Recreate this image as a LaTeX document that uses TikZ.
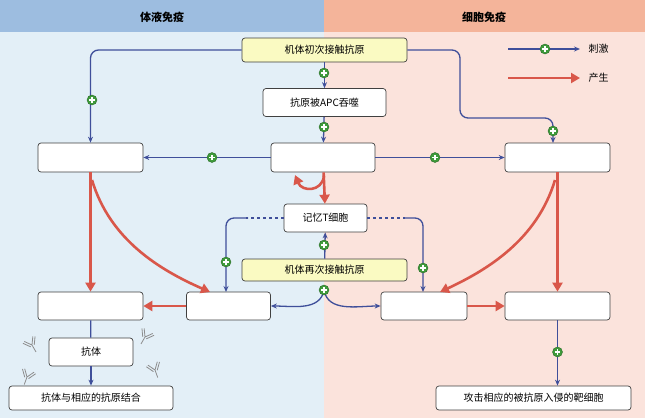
\documentclass[tikz,border=0pt]{standalone}
\usepackage{fontspec}
\setmainfont{Noto Sans CJK SC}
\usetikzlibrary{arrows.meta}
\definecolor{hdrL}{HTML}{9DBDE0}\definecolor{hdrR}{HTML}{F4B49A}
\definecolor{bgL}{HTML}{E3EFF7}\definecolor{bgR}{HTML}{FBE3DC}
\definecolor{bl}{HTML}{3F4F9A}\definecolor{rd}{HTML}{D9574A}
\definecolor{gr}{HTML}{3E9A3A}\definecolor{yl}{HTML}{FAFAC2}
\tikzset{
 box/.style={draw=black!75,fill=white,rounded corners=3pt,line width=0.7pt,font=\fontsize{10}{12}\selectfont,inner sep=0pt},
 ybox/.style={box,fill=yl},
 stim/.style={draw=bl,line width=1.3pt,-{Stealth[length=6pt,width=5pt]},rounded corners=8pt},
 stimn/.style={draw=bl,line width=1.3pt,rounded corners=8pt},
 prod/.style={draw=rd,line width=2.6pt,-{Triangle[length=9pt,width=10pt]}},
 plus/.style={circle,fill=gr,draw=gr!70!black,minimum size=10pt,inner sep=0pt,
   path picture={\draw[white,line width=1.6pt] ([xshift=-2.8pt]path picture bounding box.center)--([xshift=2.8pt]path picture bounding box.center)
   ([yshift=-2.8pt]path picture bounding box.center)--([yshift=2.8pt]path picture bounding box.center);}},
 ab/.style={draw=black!45,line width=0.8pt}
}
\begin{document}
\begin{tikzpicture}[x=1pt,y=-1pt]
\fill[bgL] (0,0) rectangle (324,418);
\fill[bgR] (324,0) rectangle (645,418);
\fill[hdrL] (0,0) rectangle (324,32);
\fill[hdrR] (324,0) rectangle (645,32);
\node[font=\bfseries\fontsize{11}{13}\selectfont] (hl) at (162,17) {体液免疫};
\node[font=\bfseries\fontsize{11}{13}\selectfont] (hr) at (484,17) {细胞免疫};
% nodes
\node[ybox,minimum width=165pt,minimum height=24pt] (n0) at (324.5,50) {机体初次接触抗原};
\node[box,minimum width=123pt,minimum height=28pt] (n1) at (324.5,102.5) {抗原被APC吞噬};
\node[box,minimum width=105pt,minimum height=29pt] (L1) at (90.5,157.5) {};
\node[box,minimum width=104pt,minimum height=29pt] (C1) at (323,157.5) {};
\node[box,minimum width=105pt,minimum height=29pt] (R1) at (557.5,157.5) {};
\node[box,minimum width=83pt,minimum height=28pt] (M) at (325.5,218) {记忆T细胞};
\node[ybox,minimum width=165pt,minimum height=22pt] (n2) at (324.5,270) {机体再次接触抗原};
\node[box,minimum width=105pt,minimum height=28pt] (L2) at (90.5,306) {};
\node[box,minimum width=84pt,minimum height=28pt] (L2b) at (228.5,306) {};
\node[box,minimum width=86pt,minimum height=28pt] (R2b) at (424,306) {};
\node[box,minimum width=105pt,minimum height=28pt] (R2) at (557.5,306) {};
\node[box,minimum width=84pt,minimum height=28pt] (AB) at (91,352) {抗体};
\node[box,minimum width=164pt,minimum height=24pt] (BL) at (91,398) {抗体与相应的抗原结合};
\node[box,minimum width=195pt,minimum height=24pt] (BR) at (533.5,398) {攻击相应的被抗原入侵的靶细胞};
% legend
\coordinate (lg1) at (508,49); \coordinate (lg2) at (580,49);
\draw[stim] (lg1) -- (lg2);
\node[plus] (lp) at (545,49) {};
\node[anchor=west,font=\fontsize{10}{12}\selectfont] (lt1) at (585,49) {刺激};
\coordinate (lg3) at (508,78); \coordinate (lg4) at (580,78);
\draw[prod] (lg3) -- (lg4);
\node[anchor=west,font=\fontsize{10}{12}\selectfont] (lt2) at (585,78) {产生};
% stimulation connectors
\draw[stim] (n0.west) -| (L1.north);
\node[plus] at (92,100) {};
\draw[stim] (n0.east) -- (460,50) -- (460,118) -- (553,118) -- (553,143);
\node[plus] at (553,131) {};
\draw[stim] (n0) -- (n1); \node[plus] at (324,73) {};
\draw[stim] (n1) -- (C1); \node[plus] at (324,127) {};
\draw[stim] (C1) -- (L1); \node[plus] at (212,157.5) {};
\draw[stim] (C1) -- (R1); \node[plus] at (435,157.5) {};
\draw[bl,line width=1.3pt,dashed] (M.west) -- (246,218);
\draw[stim] (248,218) -- (226,218) -- (226,292);
\node[plus] at (226,262) {};
\draw[bl,line width=1.3pt,dashed] (M.east) -- (405,218);
\draw[stim] (403,218) -- (423,218) -- (423,292);
\node[plus] at (423,268) {};
\draw[stim] (n2) -- (M); \node[plus] at (324,245) {};
\draw[stim] (324,290) to[out=-100,in=0] (L2b.east);
\draw[stim] (324,290) to[out=-80,in=180] (R2b.west);
\node[plus] at (324,290) {};
\draw[stimn] (L2) -- (AB);
\draw[stim] (AB) -- (BL);
\draw[stim] (R2.south) -- (R2.south |- BR.north); \node[plus] at (557.5,352) {};
% production connectors
\draw[prod] (C1) -- (M);
\draw[prod] (324,176) .. controls (322,192) and (302,192) .. (295,175);
\draw[prod] (L1) -- (L2);
\draw[prod] (92,180) .. controls (110,240) and (160,270) .. (210,292);
\draw[prod] (R1) -- (R2);
\draw[prod] (555,180) .. controls (537,240) and (487,270) .. (440,292);
\draw[prod] (L2b) -- (L2);
\draw[prod] (R2b) -- (R2);
% antibody decorations
\foreach \x/\y/\r in {32/345/30,27/377/-20,145/337/-30,155/370/20}{
 \begin{scope}[shift={(\x,\y)},rotate=\r]
 \draw[ab] (0,8)--(0,0)--(-5,-7) (0,0)--(5,-7) (-2,1)--(-7,-6) (2,1)--(7,-6);
 \end{scope}}
\end{tikzpicture}
\end{document}
